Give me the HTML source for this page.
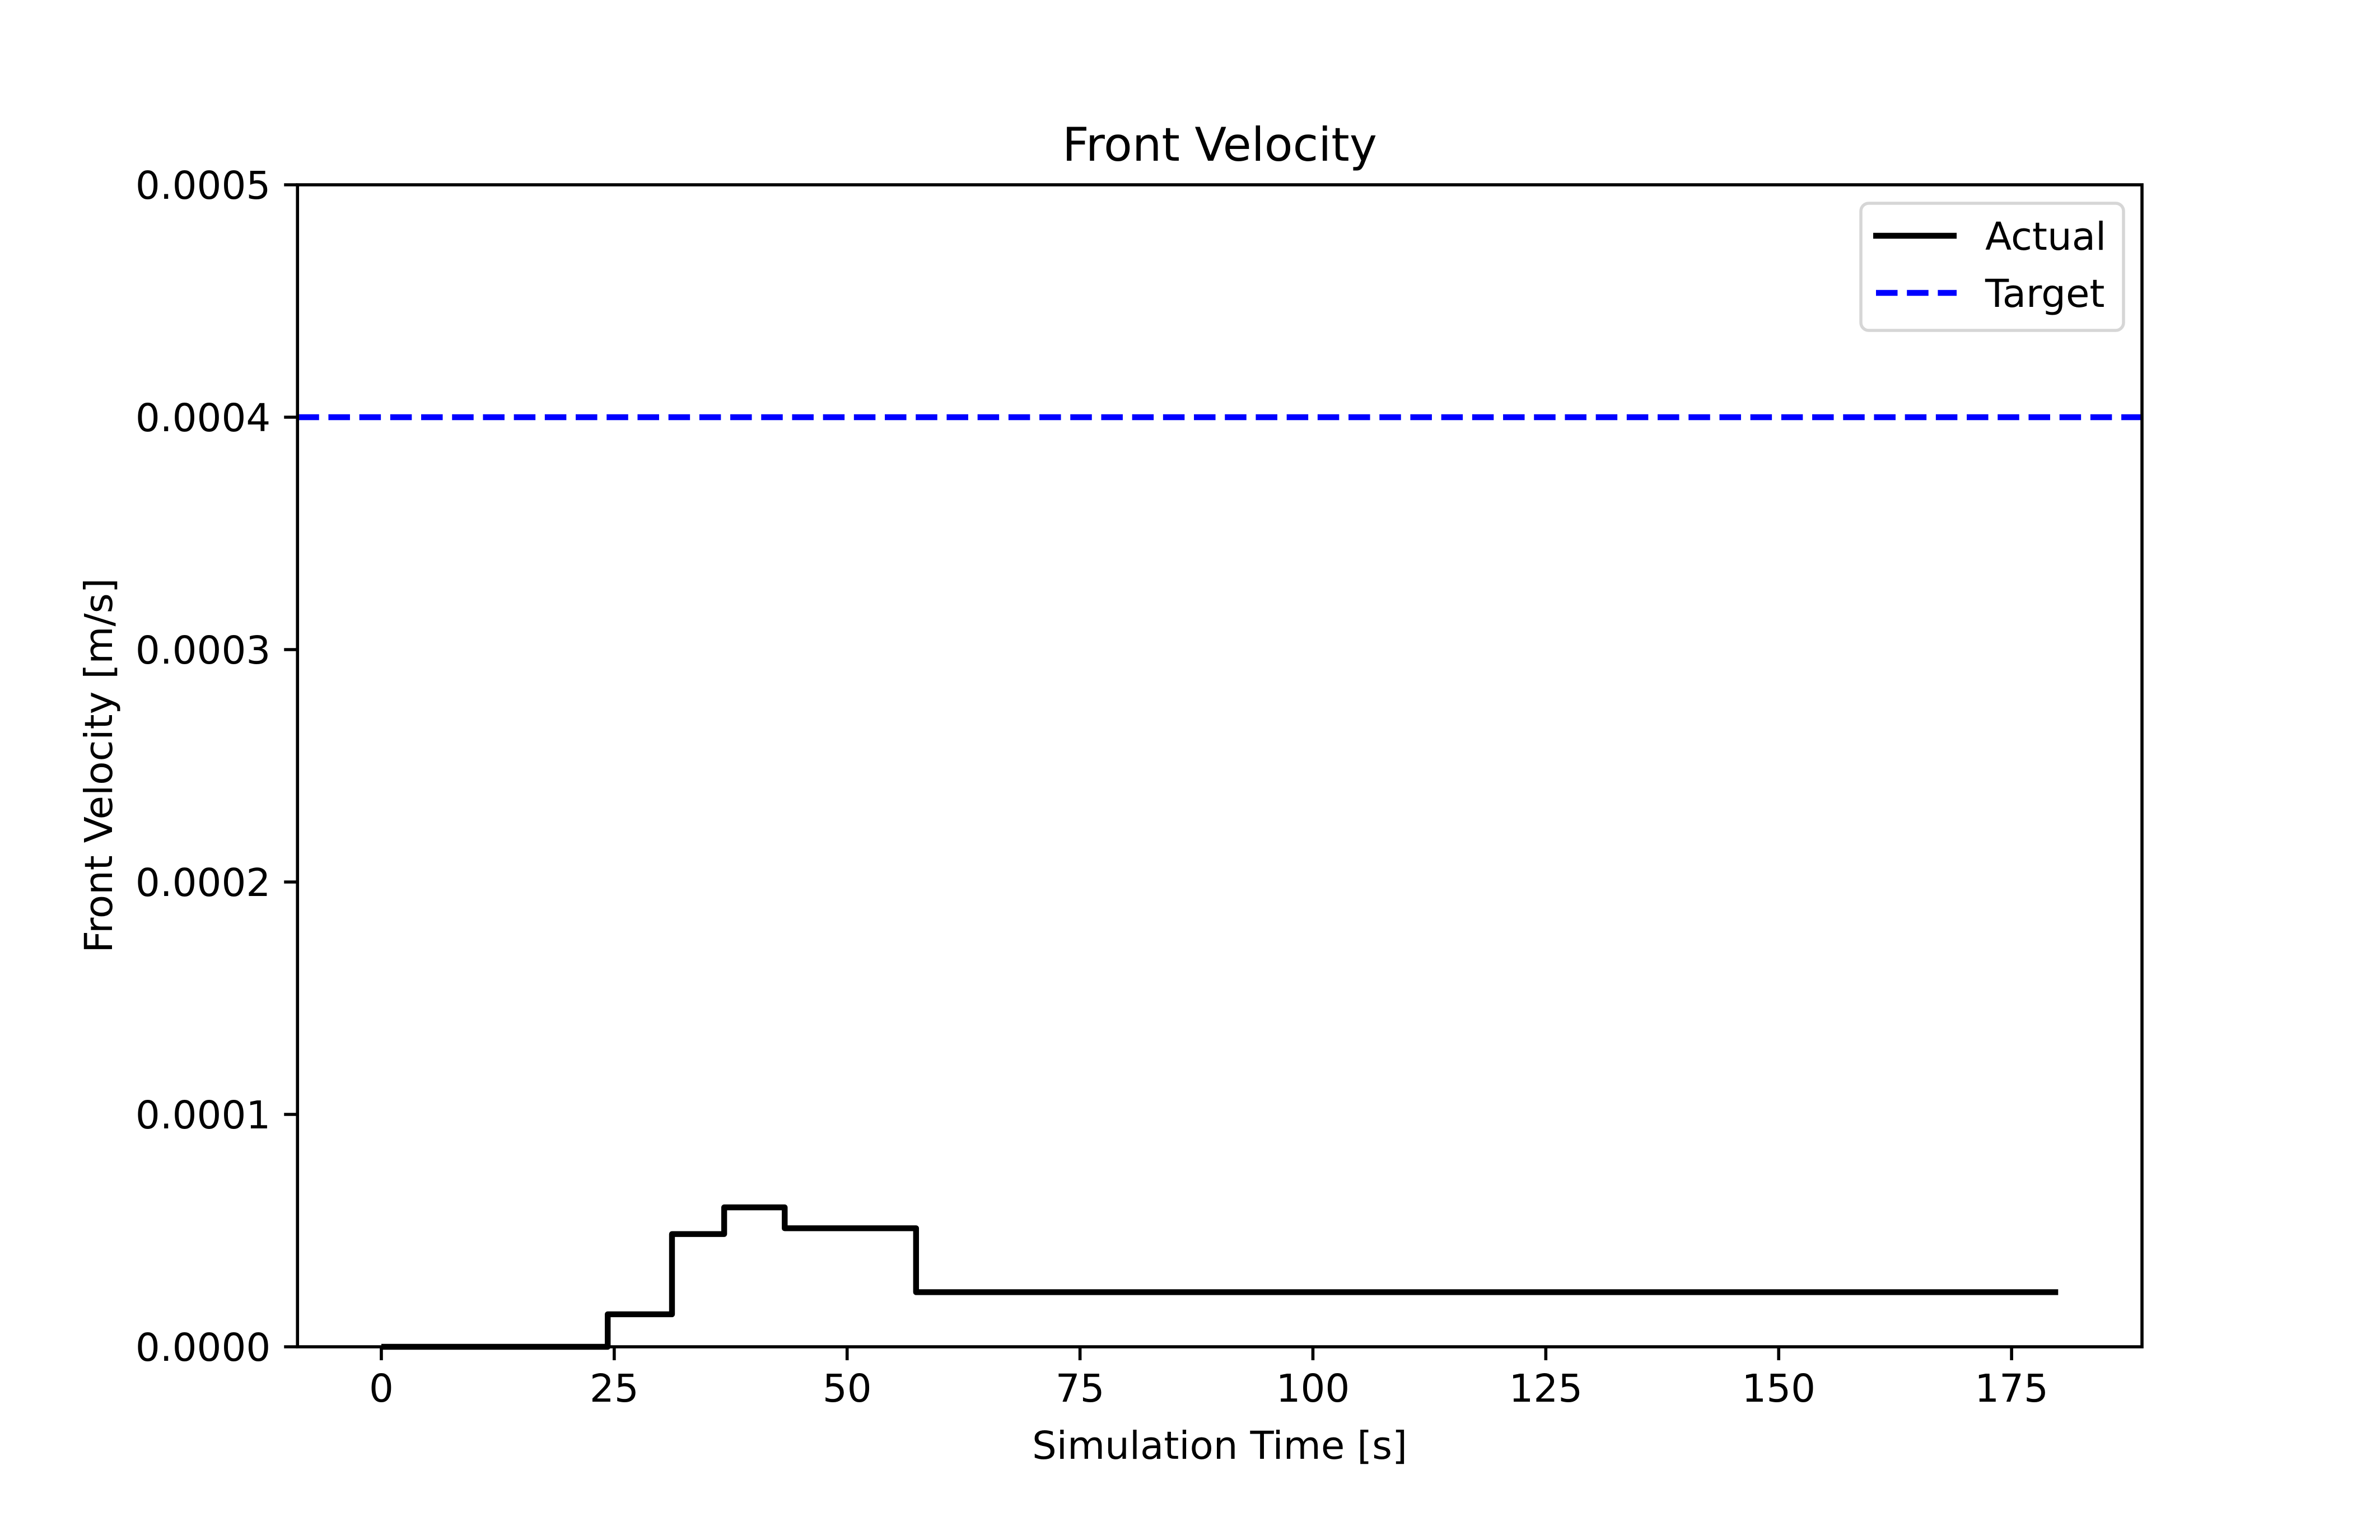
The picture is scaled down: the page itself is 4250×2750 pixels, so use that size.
<!DOCTYPE html>
<html><head><meta charset="utf-8"><style>
html,body{margin:0;padding:0;background:#fff}
svg{display:block;font-family:"DejaVu Sans","Liberation Sans",sans-serif}
</style></head><body>
<svg id="chart" width="4250" height="2750" viewBox="0 0 4250 2750" xmlns="http://www.w3.org/2000/svg">
<rect width="4250" height="2750" fill="#fff"/>
<text x="2178" y="287" font-size="83" text-anchor="middle">Front Velocity</text>
<g id="plot"></g>
<text x="2178" y="2605" font-size="69" text-anchor="middle">Simulation Time [s]</text>
<text transform="translate(200,1367) rotate(-90)" font-size="69" text-anchor="middle">Front Velocity [m/s]</text>
<g>
<rect x="3323" y="363" width="469" height="227" rx="14" fill="#fff" fill-opacity="0.8" stroke="#d6d6d6" stroke-width="5.5"/>
<line x1="3345" y1="421" x2="3494" y2="421" stroke="#000" stroke-width="10.4"/>
<text x="3545" y="446" font-size="69">Actual</text>
<line x1="3350" y1="523" x2="3494" y2="523" stroke="#00f" stroke-width="10.4" stroke-dasharray="38.5 16.7"/>
<text x="3545" y="548" font-size="69">Target</text>
</g>
</svg>
<script>
const stepTimes = [0, 24.3, 31.2, 36.8, 43.3, 57.4, 180];
const stepValues = [0, 0.000014, 0.0000485, 0.00006, 0.000051, 0.0000235, 0.0000235];
const targetValue = [0.0004];
const xTicks = [0, 25, 50, 75, 100, 125, 150, 175];
const yTicks = [0, 0.0001, 0.0002, 0.0003, 0.0004, 0.0005];
const yTickLabels = ["0.0000", "0.0001", "0.0002", "0.0003", "0.0004", "0.0005"];

const L = 531.25, R = 3825, T = 330, B = 2405;
const xMin = -9, xMax = 189, yMin = 0, yMax = 0.0005;
const sx = v => L + (v - xMin) / (xMax - xMin) * (R - L);
const sy = v => B - (v - yMin) / (yMax - yMin) * (B - T);
const NS = "http://www.w3.org/2000/svg";
const g = document.getElementById('plot');
function mk(tag, attrs) { const e = document.createElementNS(NS, tag); for (const k in attrs) e.setAttribute(k, attrs[k]); g.appendChild(e); return e; }

let d = '';
for (let i = 0; i < stepTimes.length; i++) {
  const x = sx(stepTimes[i]), y = sy(stepValues[i]);
  if (i === 0) d += 'M' + x + ' ' + y;
  else { d += ' L' + x + ' ' + sy(stepValues[i - 1]) + ' L' + x + ' ' + y; }
}
const actual = mk('path', { d: d, fill: 'none', stroke: '#000', 'stroke-width': 10.4, 'stroke-linejoin': 'round' });



const target = mk('line', { x1: L, x2: R, y1: sy(targetValue[0]), y2: sy(targetValue[0]), stroke: '#00f', 'stroke-width': 10.4, 'stroke-dasharray': '38.5 16.7' });



const frame = mk('rect', { x: L, y: T, width: R - L, height: B - T, fill: 'none', stroke: '#000', 'stroke-width': 5.6 });



xTicks.forEach(v => {
  const x = sx(v);
  const t = mk('line', { x1: x, x2: x, y1: B, y2: B + 24, stroke: '#000', 'stroke-width': 5.6 });
  
  
  const l = mk('text', { x: x, y: B + 98, 'font-size': 69, 'text-anchor': 'middle' });
  l.textContent = String(v);
  
  
});
yTicks.forEach((v, i) => {
  const y = sy(v);
  const t = mk('line', { x1: L - 24, x2: L, y1: y, y2: y, stroke: '#000', 'stroke-width': 5.6 });
  
  
  const l = mk('text', { x: L - 48, y: y + 25, 'font-size': 69, 'text-anchor': 'end' });
  l.textContent = yTickLabels[i];
  
  
});
</script>
</body></html>
